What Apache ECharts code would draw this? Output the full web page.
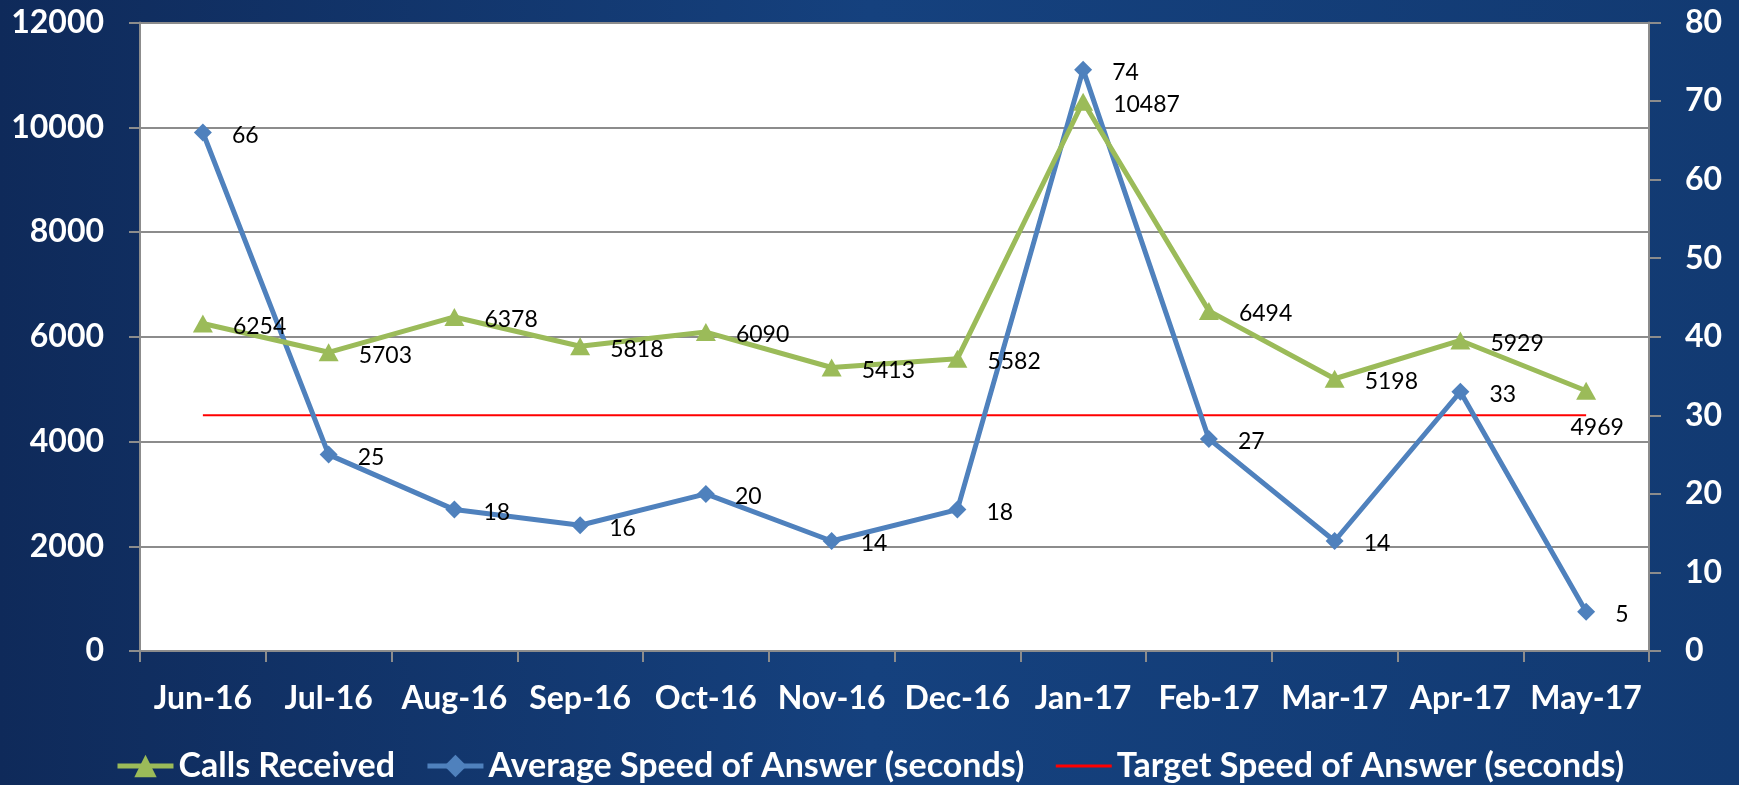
<!DOCTYPE html>
<html>
<head>
<meta charset="utf-8">
<script src="https://cdn.jsdelivr.net/npm/echarts@6/dist/echarts.min.js"></script>
<style>
html,body{margin:0;padding:0;}
body{width:1739px;height:785px;background:linear-gradient(90deg,#0f2a5a 0%,#15417e 50%,#123a72 100%);}
#chart{width:1739px;height:785px;}
</style>
</head>
<body>
<div id="chart"></div>
<script>
const months = ['Jun-16','Jul-16','Aug-16','Sep-16','Oct-16','Nov-16','Dec-16','Jan-17','Feb-17','Mar-17','Apr-17','May-17'];
const callsReceived = [6254, 5703, 6378, 5818, 6090, 5413, 5582, 10487, 6494, 5198, 5929, 4969];
const avgSpeed = [66, 25, 18, 16, 20, 14, 18, 74, 27, 14, 33, 5];
const targetSpeed = [30, 30, 30, 30, 30, 30, 30, 30, 30, 30, 30, 30];

const FONT = 'Lato';
const chart = echarts.init(document.getElementById('chart'), null, {renderer:'canvas'});

const callsData = callsReceived.map((v, i) => {
  if (i === callsReceived.length - 1) {
    return {value: v, label: {position: 'bottom', distance: 16, offset: [11, 0]}};
  }
  return v;
});

chart.setOption({
  backgroundColor: 'transparent',
  animation: false,
  grid: {left: 140, right: 90, top: 22.5, bottom: 134, show: true, backgroundColor: '#ffffff', borderWidth: 0},
  legend: {
    bottom: -3,
    left: 'center',
    itemWidth: 56,
    itemHeight: 28,
    itemGap: 30,
    textStyle: {color: '#ffffff', fontFamily: FONT, fontWeight: 'bold', fontSize: 34},
    data: [
      {name: 'Calls Received', lineStyle: {width: 5}},
      {name: 'Average Speed of Answer (seconds)', lineStyle: {width: 5}},
      {name: 'Target Speed of Answer (seconds)', itemStyle: {opacity: 0}, lineStyle: {width: 3}}
    ]
  },
  xAxis: {
    type: 'category',
    data: months,
    boundaryGap: true,
    axisLine: {lineStyle: {color: '#8c8c8c', width: 2}},
    axisTick: {show: true, length: 11, lineStyle: {color: '#8c8c8c', width: 2}},
    axisLabel: {color: '#ffffff', fontFamily: FONT, fontWeight: 'bold', fontSize: 32, margin: 32, interval: 0}
  },
  yAxis: [
    {
      type: 'value', min: 0, max: 12000, interval: 2000, position: 'left',
      axisLine: {show: true, lineStyle: {color: '#8c8c8c', width: 2}},
      axisTick: {show: true, length: 11, lineStyle: {color: '#8c8c8c', width: 2}},
      splitLine: {show: true, lineStyle: {color: '#8c8c8c', width: 2}},
      axisLabel: {color: '#ffffff', fontFamily: FONT, fontWeight: 'bold', fontSize: 32, margin: 36, formatter: v => String(v)}
    },
    {
      type: 'value', min: 0, max: 80, interval: 10, position: 'right',
      axisLine: {show: true, lineStyle: {color: '#8c8c8c', width: 2}},
      axisTick: {show: true, length: 12, lineStyle: {color: '#8c8c8c', width: 2}},
      splitLine: {show: false},
      axisLabel: {color: '#ffffff', fontFamily: FONT, fontWeight: 'bold', fontSize: 32, margin: 36, align: 'left', formatter: v => String(v)}
    }
  ],
  series: [
    {
      name: 'Average Speed of Answer (seconds)',
      type: 'line',
      yAxisIndex: 1,
      data: avgSpeed,
      symbol: 'diamond',
      symbolSize: 18,
      lineStyle: {color: '#4f81bd', width: 5},
      itemStyle: {color: '#4f81bd'},
      label: {show: true, position: 'right', distance: 20, offset: [0, 3], color: '#000', fontFamily: FONT, fontSize: 23},
      z: 3
    },
    {
      name: 'Calls Received',
      type: 'line',
      yAxisIndex: 0,
      data: callsData,
      symbol: 'triangle',
      symbolSize: [20, 18],
      lineStyle: {color: '#9bbb59', width: 5},
      itemStyle: {color: '#9bbb59'},
      label: {show: true, position: 'right', distance: 20, offset: [0, 3], color: '#000', fontFamily: FONT, fontSize: 23},
      z: 4
    },
    {
      name: 'Target Speed of Answer (seconds)',
      type: 'line',
      yAxisIndex: 1,
      data: targetSpeed,
      symbol: 'none',
      lineStyle: {color: '#ff0000', width: 2},
      itemStyle: {color: '#ff0000'},
      z: 2
    }
  ]
});
</script>
</body>
</html>
